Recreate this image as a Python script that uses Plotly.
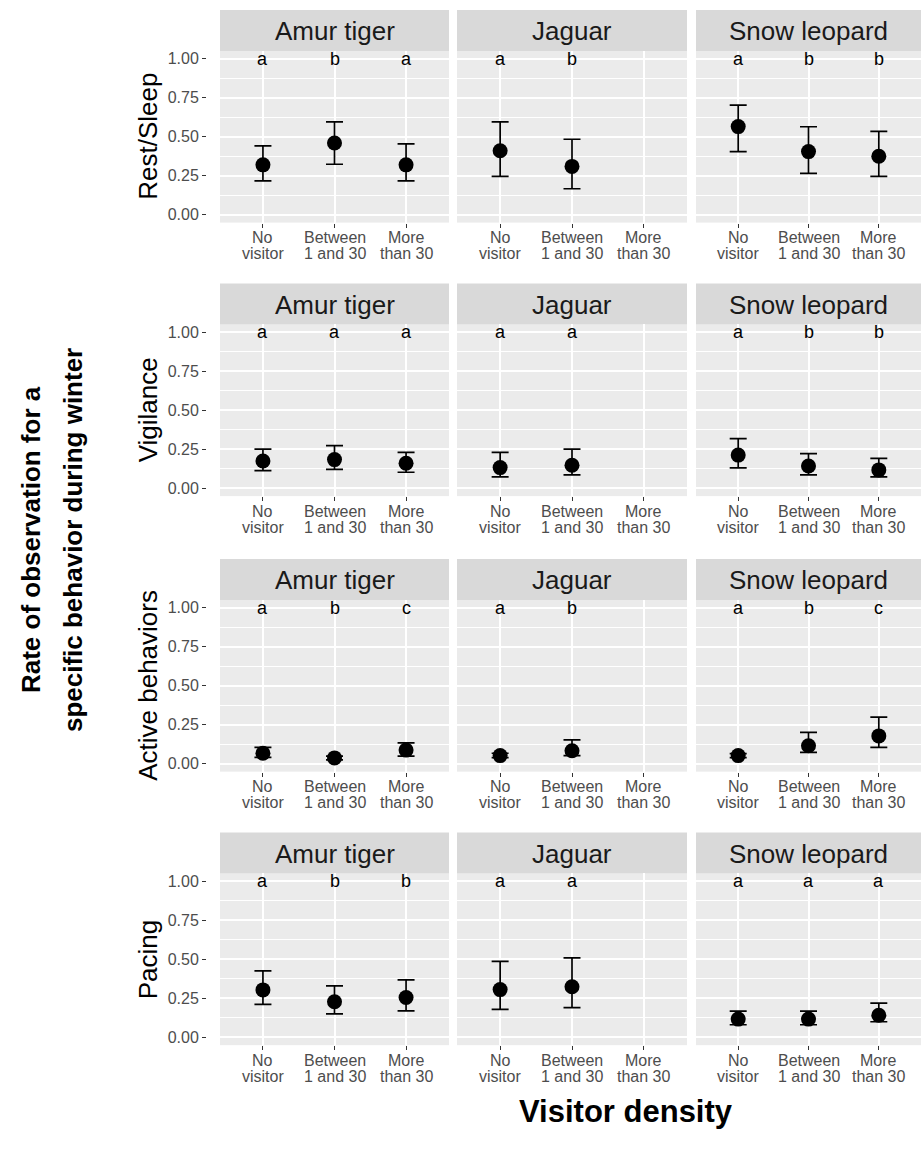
import plotly.graph_objects as go

species = ["Amur tiger", "Jaguar", "Snow leopard"]
behaviors = ["Rest/Sleep", "Vigilance", "Active behaviors", "Pacing"]
densities = ["No visitor", "Between 1 and 30", "More than 30"]
density_label_lines = [("No", "visitor"), ("Between", "1 and 30"), ("More", "than 30")]

# Rows: species (Amur tiger, Jaguar, Snow leopard); columns: visitor density.
# None = no observation for that density level.
rest_mean = [[0.32, 0.46, 0.32], [0.41, 0.31, None], [0.565, 0.405, 0.375]]
rest_low = [[0.217, 0.324, 0.217], [0.246, 0.167, None], [0.405, 0.266, 0.246]]
rest_high = [[0.442, 0.596, 0.455], [0.596, 0.484, None], [0.703, 0.564, 0.534]]
rest_letters = [["a", "b", "a"], ["a", "b", ""], ["a", "b", "b"]]

vigil_mean = [[0.175, 0.184, 0.161], [0.133, 0.148, None], [0.213, 0.143, 0.118]]
vigil_low = [[0.114, 0.122, 0.103], [0.074, 0.086, None], [0.131, 0.086, 0.074]]
vigil_high = [[0.251, 0.273, 0.230], [0.230, 0.251, None], [0.319, 0.222, 0.192]]
vigil_letters = [["a", "a", "a"], ["a", "a", ""], ["a", "b", "b"]]

active_mean = [[0.068, 0.038, 0.088], [0.053, 0.084, None], [0.053, 0.116, 0.179]]
active_low = [[0.042, 0.026, 0.050], [0.040, 0.053, None], [0.040, 0.074, 0.105]]
active_high = [[0.105, 0.050, 0.135], [0.068, 0.154, None], [0.066, 0.202, 0.299]]
active_letters = [["a", "b", "c"], ["a", "b", ""], ["a", "b", "c"]]

pacing_mean = [[0.304, 0.228, 0.255], [0.306, 0.324, None], [0.117, 0.117, 0.142]]
pacing_low = [[0.211, 0.151, 0.170], [0.179, 0.191, None], [0.081, 0.081, 0.100]]
pacing_high = [[0.426, 0.330, 0.368], [0.487, 0.509, None], [0.168, 0.168, 0.219]]
pacing_letters = [["a", "b", "b"], ["a", "a", ""], ["a", "a", "a"]]

y_ticks = [0, 0.25, 0.5, 0.75, 1.0]
letter_y = 1.0

rows = [
    (rest_mean, rest_low, rest_high, rest_letters),
    (vigil_mean, vigil_low, vigil_high, vigil_letters),
    (active_mean, active_low, active_high, active_letters),
    (pacing_mean, pacing_low, pacing_high, pacing_letters),
]

W, H = 921, 1150
FONT = "Liberation Sans, Arial, Helvetica, sans-serif"
col_px = [(220, 449), (457, 687), (696, 921)]
strip_top_px = [9, 283, 559, 833]
STRIP_H = 41
PANEL_H = 172
YAXIS_LINE_PX = 206  # where the y tick marks sit, left of the first column


def px_x(v):
    return v / W


def px_y(v):
    return 1 - v / H


fig = go.Figure()
shapes = []
annotations = []
layout_axes = {}

for r, (mean, low, high, letters) in enumerate(rows):
    s_top = strip_top_px[r]
    p_top = s_top + STRIP_H
    p_bot = p_top + PANEL_H
    for c, sp in enumerate(species):
        k = r * 3 + c + 1
        xa = "x" if k == 1 else f"x{k}"
        ya = "y" if k == 1 else f"y{k}"
        x0, x1 = col_px[c]

        xs, ys, up, dn = [], [], [], []
        for i, d in enumerate(densities):
            m = mean[c][i]
            if m is None:
                continue
            xs.append(d)
            ys.append(m)
            up.append(high[c][i] - m)
            dn.append(m - low[c][i])

        fig.add_trace(go.Scatter(
            x=xs, y=ys, mode="markers", xaxis=xa, yaxis=ya,
            marker=dict(color="black", size=15),
            error_y=dict(type="data", symmetric=False, array=up, arrayminus=dn,
                         color="black", thickness=1.7, width=8.5),
            hoverinfo="skip", showlegend=False,
        ))

        # significance letters above each density level
        for i, lab in enumerate(letters[c]):
            if lab:
                annotations.append(dict(
                    x=i, y=letter_y, xref=xa, yref=ya, text=lab, showarrow=False,
                    font=dict(family=FONT, size=18, color="black"),
                    xanchor="center", yanchor="middle"))

        # two-line category labels under each panel
        for i, (l1, l2) in enumerate(density_label_lines):
            for j, txt in enumerate((l1, l2)):
                annotations.append(dict(
                    x=i, y=px_y(p_bot + 15 + 16 * j), xref=xa, yref="paper",
                    text=txt, showarrow=False, xanchor="center", yanchor="middle",
                    font=dict(family=FONT, size=16, color="#4d4d4d")))

        xkey = "xaxis" if k == 1 else f"xaxis{k}"
        ykey = "yaxis" if k == 1 else f"yaxis{k}"
        layout_axes[xkey] = dict(
            domain=[px_x(x0), px_x(x1)], anchor=ya, type="category",
            categoryorder="array", categoryarray=densities,
            range=[-0.6, 2.6], showgrid=True, gridcolor="white", gridwidth=1.5,
            zeroline=False, showline=False, ticks="outside", ticklen=4,
            tickcolor="#333333", tickwidth=1, showticklabels=False,
            fixedrange=True,
        )
        yax = dict(
            domain=[px_y(p_bot), px_y(p_top)],
            range=[-0.05, 1.05], tickvals=y_ticks, tickformat=".2f",
            showgrid=True, gridcolor="white", gridwidth=1.5,
            minor=dict(dtick=0.125, tick0=0, showgrid=True, gridcolor="white",
                       gridwidth=0.7, ticks=""),
            zeroline=False, showline=False,
            ticks="outside" if c == 0 else "", ticklen=4,
            tickcolor="#333333", tickwidth=1,
            showticklabels=(c == 0),
            tickfont=dict(family=FONT, size=16, color="#4d4d4d"),
            fixedrange=True,
        )
        if c == 0:
            yax.update(anchor="free", position=px_x(YAXIS_LINE_PX))
        else:
            yax.update(anchor=xa)
        layout_axes[ykey] = yax

        # facet strip
        shapes.append(dict(type="rect", xref="paper", yref="paper",
                           x0=px_x(x0), x1=px_x(x1), y0=px_y(p_top), y1=px_y(s_top),
                           fillcolor="#d9d9d9", line=dict(width=0), layer="below"))
        annotations.append(dict(
            x=px_x((x0 + x1) / 2), y=px_y(s_top + STRIP_H / 2 + 1), xref="paper", yref="paper",
            text=sp, showarrow=False, xanchor="center", yanchor="middle",
            font=dict(family=FONT, size=26, color="#1a1a1a")))

    # row (behavior) title
    annotations.append(dict(
        x=px_x(148), y=px_y((p_top + p_bot) / 2), xref="paper", yref="paper",
        text=behaviors[r], textangle=-90, showarrow=False,
        xanchor="center", yanchor="middle",
        font=dict(family=FONT, size=26, color="black")))

# global axis titles
annotations.append(dict(
    x=px_x(31), y=px_y(540), xref="paper", yref="paper",
    text="<b>Rate of observation for a</b>", textangle=-90, showarrow=False,
    xanchor="center", yanchor="middle",
    font=dict(family=FONT, size=26, color="black")))
annotations.append(dict(
    x=px_x(73), y=px_y(540), xref="paper", yref="paper",
    text="<b>specific behavior during winter</b>", textangle=-90, showarrow=False,
    xanchor="center", yanchor="middle",
    font=dict(family=FONT, size=26, color="black")))
annotations.append(dict(
    x=px_x(626), y=px_y(1112), xref="paper", yref="paper",
    text="<b>Visitor density</b>", showarrow=False,
    xanchor="center", yanchor="middle",
    font=dict(family=FONT, size=31, color="black")))

fig.update_layout(
    width=W, height=H, margin=dict(l=0, r=0, t=0, b=0),
    paper_bgcolor="white", plot_bgcolor="#ebebeb",
    font=dict(family=FONT), showlegend=False,
    shapes=shapes, annotations=annotations, **layout_axes,
)

fig.write_html("out.html")
